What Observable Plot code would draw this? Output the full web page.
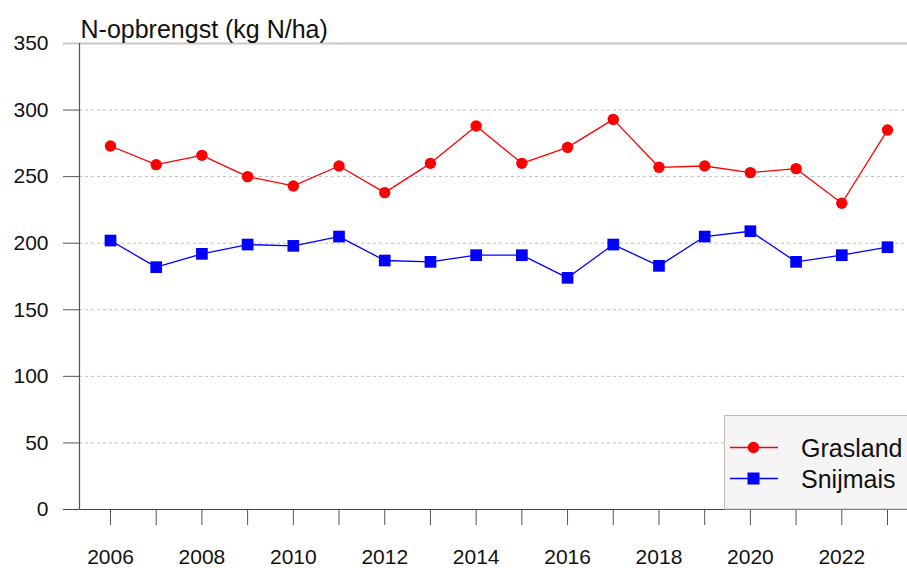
<!DOCTYPE html>
<html>
<head>
<meta charset="utf-8">
<script src="https://cdn.jsdelivr.net/npm/d3@7"></script>
<script src="https://cdn.jsdelivr.net/npm/@observablehq/plot@0.6"></script>
<style>
  html, body { margin: 0; padding: 0; background: #fff; }
  #chart svg { display: block; }
</style>
</head>
<body>
<div id="chart"></div>
<script>
const years = [2006, 2007, 2008, 2009, 2010, 2011, 2012, 2013, 2014, 2015, 2016, 2017, 2018, 2019, 2020, 2021, 2022, 2023];
const grasland = [273, 259, 266, 250, 243, 258, 238, 260, 288, 260, 272, 293, 257, 258, 253, 256, 230, 285];
const snijmais = [202, 182, 192, 199, 198, 205, 187, 186, 191, 191, 174, 199, 183, 205, 209, 186, 191, 197];
const yTicks = [0, 50, 100, 150, 200, 250, 300, 350];
const gridValues = [50, 100, 150, 200, 250, 300];
const seriesNames = ["Grasland", "Snijmais"];
const seriesColors = ["#ff0000", "#0000ff"];
const title = "N-opbrengst (kg N/ha)";

const gras = years.map((y, i) => ({year: y, value: grasland[i]}));
const snij = years.map((y, i) => ({year: y, value: snijmais[i]}));

const font = "'Liberation Sans', Arial, Helvetica, sans-serif";

const chart = Plot.plot({
  width: 907,
  height: 568,
  marginTop: 43,
  marginBottom: 59,
  marginLeft: 79,
  marginRight: 0,
  style: {fontFamily: font, fontSize: "21px", background: "#fff", color: "#111"},
  x: {domain: [2006, 2023], range: [110, 887]},
  y: {domain: [0, 350], range: [509, 43]},
  marks: [
    Plot.ruleY(gridValues, {stroke: "#bdbdbd", strokeDasharray: "3,3", strokeWidth: 1}),
    Plot.ruleY([350], {stroke: "#c8c8c8", strokeWidth: 2}),
    Plot.axisY({ticks: yTicks.slice(1, -1), tickSize: 16, tickPadding: 15, stroke: "#555", fill: "#111", fontSize: 21, label: null, tickFormat: d => String(d)}),
    Plot.axisY({ticks: [350], tickSize: 16, tickPadding: 15, stroke: "#c8c8c8", strokeWidth: 2, fill: "#111", fontSize: 21, label: null, tickFormat: d => String(d)}),
    Plot.axisY({ticks: [0], tickSize: 16, tickPadding: 15, stroke: "#444", fill: "#111", fontSize: 21, label: null, tickFormat: d => String(d)}),
    Plot.axisX({ticks: years, tickSize: 16, tickPadding: 24, stroke: "#555", fill: "#111", fontSize: 21, label: null, tickFormat: d => d % 2 === 0 ? String(d) : ""}),
    Plot.ruleY([0], {stroke: "#444", strokeWidth: 1.2}),
    Plot.frame({anchor: "left", stroke: "#555", strokeWidth: 1.2}),
    Plot.line(gras, {x: "year", y: "value", stroke: seriesColors[0], strokeWidth: 1.3}),
    Plot.dot(gras, {x: "year", y: "value", fill: seriesColors[0], r: 5.7, symbol: "circle"}),
    Plot.line(snij, {x: "year", y: "value", stroke: seriesColors[1], strokeWidth: 1.3}),
    Plot.dot(snij, {x: "year", y: "value", fill: seriesColors[1], r: 6.6, symbol: "square"}),
    Plot.text([title], {frameAnchor: "top-left", textAnchor: "start", lineAnchor: "bottom", dx: 1, dy: -6, fontSize: 25, fill: "#111"})
  ]
});

// Legend inside the plot area (bottom-right)
const svg = d3.select(chart);
const lg = svg.append("g").attr("font-family", font).attr("text-anchor", "start");
lg.append("rect").attr("x", 724.5).attr("y", 415.5).attr("width", 190).attr("height", 93.5)
  .attr("fill", "#f5f5f5").attr("stroke", "#bcbcbc").attr("stroke-width", 1);
const rowsY = [447.5, 478.5];
seriesNames.forEach((name, i) => {
  const cy = rowsY[i];
  lg.append("line").attr("x1", 730).attr("x2", 778).attr("y1", cy).attr("y2", cy)
    .attr("stroke", seriesColors[i]).attr("stroke-width", 1.3);
  if (i === 0) {
    lg.append("circle").attr("cx", 753.5).attr("cy", cy).attr("r", 5.7).attr("fill", seriesColors[i]);
  } else {
    lg.append("rect").attr("x", 753.5 - 6).attr("y", cy - 6).attr("width", 12).attr("height", 12).attr("fill", seriesColors[i]);
  }
  lg.append("text").attr("x", 801).attr("y", cy).attr("dy", "0.36em")
    .attr("font-size", 25).attr("fill", "#111").text(name);
});

document.getElementById("chart").appendChild(chart);
</script>
</body>
</html>
